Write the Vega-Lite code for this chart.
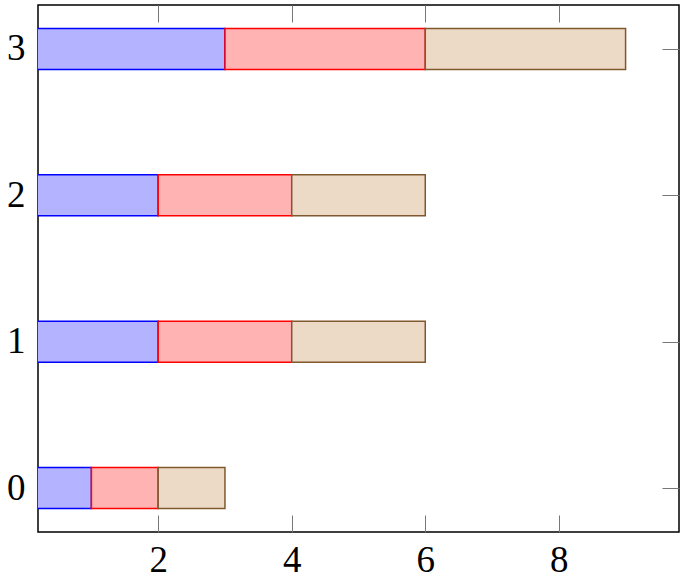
{
  "$schema": "https://vega.github.io/schema/vega-lite/v6.json",
  "width": 641,
  "height": 527,
  "autosize": {"type": "none"},
  "padding": {"left": 38, "top": 5, "right": 5, "bottom": 46},
  "config": {
    "view": {"stroke": "black", "strokeWidth": 1.5},
    "axis": {"labelFont": "Liberation Serif", "labelFontSize": 37, "labelColor": "black", "grid": false, "domain": false, "tickColor": "#777777", "tickWidth": 1, "tickSize": -17, "zindex": 0}
  },
  "data": {"values": [
    {"y": 0, "series": "s1", "v": 1}, {"y": 0, "series": "s2", "v": 1}, {"y": 0, "series": "s3", "v": 1},
    {"y": 1, "series": "s1", "v": 2}, {"y": 1, "series": "s2", "v": 2}, {"y": 1, "series": "s3", "v": 2},
    {"y": 2, "series": "s1", "v": 2}, {"y": 2, "series": "s2", "v": 2}, {"y": 2, "series": "s3", "v": 2},
    {"y": 3, "series": "s1", "v": 3}, {"y": 3, "series": "s2", "v": 3}, {"y": 3, "series": "s3", "v": 3}
  ]},
  "layer": [
    {
      "mark": {"type": "bar", "orient": "horizontal", "size": 41, "strokeWidth": 1.5, "clip": true},
      "encoding": {
        "x": {"field": "v", "type": "quantitative", "stack": "zero",
          "scale": {"domain": [0.2, 9.8], "nice": false, "zero": false, "padding": 0},
          "axis": {"orient": "bottom", "values": [2, 4, 6, 8], "labelPadding": 27, "title": null}},
        "y": {"field": "y", "type": "quantitative",
          "scale": {"domain": [-0.3, 3.3], "nice": false, "zero": false, "padding": 0},
          "axis": {"orient": "left", "values": [0, 1, 2, 3], "labelPadding": 30, "title": null}},
        "order": {"field": "series", "sort": "ascending"},
        "fill": {"field": "series", "type": "nominal", "legend": null,
          "scale": {"domain": ["s1", "s2", "s3"], "range": ["#b3b3ff", "#ffb3b3", "#ecd9c6"]}},
        "stroke": {"field": "series", "type": "nominal", "legend": null,
          "scale": {"domain": ["s1", "s2", "s3"], "range": ["#0000ff", "#ff0000", "#80582e"]}}
      }
    },
    {
      "mark": {"type": "point", "opacity": 0},
      "encoding": {
        "x": {"field": "v", "type": "quantitative",
          "scale": {"domain": [0.2, 9.8], "nice": false, "zero": false, "padding": 0},
          "axis": {"orient": "top", "values": [2, 4, 6, 8], "labels": false, "title": null}},
        "y": {"field": "y", "type": "quantitative",
          "scale": {"domain": [-0.3, 3.3], "nice": false, "zero": false, "padding": 0},
          "axis": {"orient": "right", "values": [0, 1, 2, 3], "labels": false, "title": null}}
      }
    }
  ],
  "resolve": {"axis": {"x": "independent", "y": "independent"}}
}
